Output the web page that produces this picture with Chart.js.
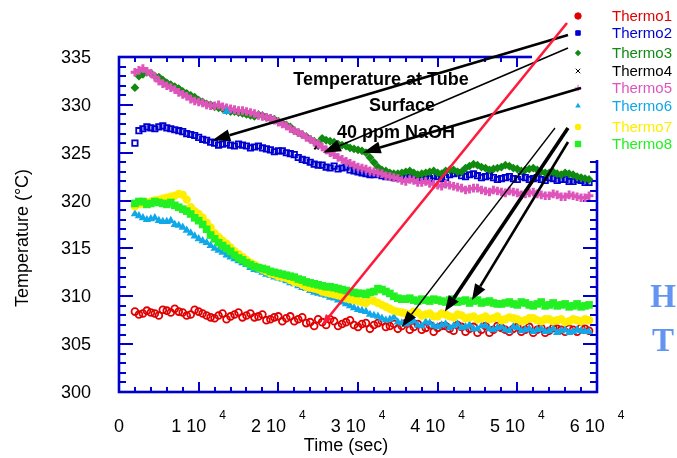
<!DOCTYPE html>
<html>
<head>
<meta charset="utf-8">
<script src="https://cdn.jsdelivr.net/npm/chart.js@4.4.1/dist/chart.umd.min.js"></script>
<style>
  html, body { margin: 0; padding: 0; background: #fff; }
  #wrap { width: 677px; height: 458px; }
</style>
</head>
<body>
<div id="wrap"><canvas id="myChart" width="677" height="458"></canvas></div>
<script>
// logged every 1000 s, plus the readings taken in between (halfTimes)
const times = [2000, 3000, 4000, 5000, 6000, 7000, 8000, 9000, 10000, 11000,
  12000, 13000, 14000, 15000, 16000, 17000, 18000, 19000, 20000, 21000,
  22000, 23000, 24000, 25000, 26000, 27000, 28000, 29000, 30000, 31000,
  32000, 33000, 34000, 35000, 36000, 37000, 38000, 39000, 40000, 41000,
  42000, 43000, 44000, 45000, 46000, 47000, 48000, 49000, 50000, 51000,
  52000, 53000, 54000, 55000, 56000, 57000, 58000, 59000];
const halfTimes = [2500, 3500, 4500, 5500, 6500, 7500, 8500, 9500, 10500, 11500,
  12500, 13500, 14500, 15500, 16500, 17500, 18500, 19500, 20500, 21500,
  22500, 23500, 24500, 25500, 26500, 27500, 28500, 29500, 30500, 31500,
  32500, 33500, 34500, 35500, 36500, 37500, 38500, 39500, 40500, 41500,
  42500, 43500, 44500, 45500, 46500, 47500, 48500, 49500, 50500, 51500,
  52500, 53500, 54500, 55500, 56500, 57500, 58500];

const thermo1 = [308.4, 308.2, 308.3, 308.0, 308.5, 308.7, 308.3, 308.1, 308.4, 308.0,
  307.7, 308.2, 307.9, 308.3, 308.0, 307.8, 308.1, 307.6, 307.9, 307.7,
  307.4, 307.8, 307.3, 307.6, 307.0, 307.4, 307.1, 307.5, 306.8, 307.2,
  307.0, 307.4, 306.9, 306.6, 307.2, 306.8, 306.5, 307.0, 306.7, 306.9,
  306.4, 306.8, 306.6, 306.2, 306.9, 306.5, 306.7, 306.3, 306.8, 306.5,
  306.2, 306.7, 306.4, 306.6, 306.3, 306.5, 306.7, 306.4];
const thermo1Half = [308.1, 308.5, 308.2, 308.6, 308.3, 308.4, 308.0, 308.6, 308.2, 307.8,
  308.0, 307.6, 308.1, 307.8, 308.2, 307.9, 307.5, 307.8, 307.4, 307.9,
  307.6, 307.2, 306.9, 307.3, 307.6, 306.9, 307.3, 307.0, 307.1, 306.6,
  307.2, 306.8, 307.1, 306.9, 306.5, 307.1, 306.7, 306.3, 306.9, 306.6,
  307.0, 306.3, 306.8, 306.5, 306.2, 306.9, 306.5, 306.6, 306.3, 306.8,
  306.5, 306.2, 306.7, 306.5, 306.6, 306.3, 306.6];

const thermo2 = [326.0, 327.5, 327.6, 327.7, 327.6, 327.4, 327.2, 326.9, 326.6, 326.3,
  326.0, 325.9, 325.8, 325.9, 325.7, 325.6, 325.5, 325.3, 325.2, 325.0,
  324.8, 324.3, 324.0, 323.7, 323.5, 323.6, 323.4, 323.2, 323.0, 322.8,
  322.7, 322.6, 322.5, 322.6, 322.4, 322.5, 322.4, 322.3, 322.5, 322.4,
  322.8, 322.6, 322.7, 322.6, 322.5, 322.4, 322.3, 322.5, 322.2, 322.4,
  322.3, 322.2, 322.4, 322.1, 322.2, 322.0, 322.1, 321.9];
const thermo2Half = [327.3, 327.7, 327.5, 327.8, 327.5, 327.3, 327.0, 326.8, 326.4, 326.1,
  325.8, 326.0, 325.7, 325.8, 325.5, 325.7, 325.4, 325.1, 325.2, 324.9,
  324.5, 324.2, 323.8, 323.7, 323.4, 323.3, 323.5, 323.1, 322.9, 322.7,
  322.8, 322.5, 322.4, 322.7, 322.3, 322.6, 322.2, 322.6, 322.3, 322.7,
  322.9, 322.5, 322.8, 322.4, 322.6, 322.2, 322.4, 322.3, 322.5, 322.2,
  322.4, 322.1, 322.3, 322.2, 322.0, 322.2, 321.9];

const thermo3 = [331.8, 333.2, 333.3, 332.9, 332.3, 331.9, 331.4, 331.0, 330.5, 330.1,
  329.8, 329.6, 329.3, 329.2, 329.0, 328.8, 328.9, 328.6, 328.3, 327.9,
  327.3, 326.9, 326.4, 326.0, 326.3, 326.1, 325.8, 325.5, 325.3, 325.0,
  324.0, 323.2, 322.9, 322.8, 323.0, 322.9, 322.8, 323.0, 322.9, 323.1,
  323.2, 323.0, 323.6, 323.7, 323.4, 323.3, 323.5, 323.6, 323.3, 323.2,
  323.4, 323.0, 322.9, 322.8, 322.9, 322.7, 322.4, 322.2];
const thermo3Half = [333.0, 333.4, 333.0, 332.6, 332.1, 331.7, 331.2, 330.8, 330.3, 330.0,
  329.7, 329.4, 329.3, 329.1, 328.9, 329.0, 328.7, 328.5, 328.1, 327.7,
  327.1, 326.7, 326.2, 326.5, 326.2, 325.9, 325.7, 325.4, 325.2, 324.5,
  323.5, 323.1, 322.8, 322.9, 323.1, 322.7, 322.9, 323.1, 322.8, 323.2,
  323.0, 323.4, 323.8, 323.5, 323.2, 323.4, 323.7, 323.4, 323.1, 323.3,
  323.2, 322.9, 323.0, 322.7, 322.8, 322.5, 322.3];

const thermo4Times = [24800];
const thermo4 = [325.6];

const thermo5 = [333.4, 333.8, 333.3, 332.5, 332.0, 331.6, 331.1, 330.6, 330.3, 330.0,
  329.9, 329.8, 329.6, 329.4, 329.3, 329.1, 328.8, 328.6, 328.2, 327.8,
  327.3, 326.9, 326.4, 325.9, 325.3, 324.8, 324.3, 323.9, 323.5, 323.3,
  323.0, 322.8, 322.5, 322.3, 322.0, 322.1, 321.9, 321.8, 321.6, 321.7,
  321.5, 321.3, 321.2, 321.3, 321.0, 321.1, 320.9, 321.0, 320.8, 320.7,
  320.9, 320.6, 320.5, 320.6, 320.4, 320.5, 320.3, 320.5];
const thermo5Half = [333.6, 333.5, 332.9, 332.2, 331.8, 331.3, 330.9, 330.4, 330.2, 329.9,
  330.0, 329.7, 329.5, 329.4, 329.2, 328.9, 328.7, 328.4, 328.0, 327.5,
  327.1, 326.6, 326.1, 325.6, 325.0, 324.5, 324.1, 323.7, 323.4, 323.1,
  322.9, 322.6, 322.4, 322.1, 322.2, 321.9, 322.0, 321.7, 321.5, 321.6,
  321.4, 321.1, 321.3, 321.1, 320.9, 321.0, 320.8, 320.9, 320.6, 320.8,
  320.7, 320.5, 320.7, 320.4, 320.6, 320.4, 320.3];

const thermo6 = [318.6, 318.2, 318.1, 317.9, 317.8, 317.5, 317.2, 316.6, 316.0, 315.6,
  315.0, 314.6, 314.1, 313.7, 313.3, 312.8, 312.5, 312.2, 311.9, 311.6,
  311.3, 310.9, 310.6, 310.3, 310.1, 309.8, 309.4, 309.0, 308.6, 308.4,
  308.0, 307.7, 307.6, 307.3, 307.1, 307.4, 306.9, 307.2, 306.8, 307.1,
  306.9, 306.7, 307.0, 306.6, 306.9, 306.5, 306.8, 306.4, 306.7, 306.5,
  306.3, 306.6, 306.4, 306.2, 306.5, 306.3, 306.4, 306.3];
const thermo6Half = [318.4, 318.0, 318.2, 317.8, 317.9, 317.4, 316.9, 316.3, 315.8, 315.3,
  314.8, 314.3, 313.9, 313.5, 313.0, 312.7, 312.3, 312.0, 311.8, 311.4,
  311.1, 310.8, 310.4, 310.2, 309.9, 309.6, 309.2, 308.8, 308.5, 308.1,
  307.9, 307.5, 307.8, 307.2, 307.3, 307.0, 307.3, 306.9, 307.0, 306.7,
  307.1, 306.8, 306.6, 306.9, 306.6, 306.7, 306.5, 306.8, 306.4, 306.6,
  306.5, 306.3, 306.6, 306.4, 306.2, 306.5, 306.3];
const thermo6StrayTimes = [13500];
const thermo6Stray = [329.3];

const thermo7 = [319.4, 319.7, 319.9, 320.1, 320.3, 320.5, 320.6, 319.3, 318.6, 317.7,
  316.6, 315.8, 315.1, 314.4, 313.8, 313.3, 312.8, 312.4, 312.1, 311.9,
  311.5, 311.2, 310.9, 310.7, 310.4, 310.2, 310.0, 309.7, 309.5, 309.3,
  309.5, 309.1, 308.7, 308.4, 308.2, 308.4, 308.0, 308.2, 307.9, 308.1,
  307.8, 308.0, 307.8, 307.6, 307.9, 307.7, 307.5, 307.8, 307.6, 307.5,
  307.7, 307.4, 307.6, 307.5, 307.3, 307.6, 307.4, 307.5];
const thermo7Half = [319.6, 319.8, 320.0, 320.2, 320.4, 320.7, 320.1, 318.9, 318.2, 317.2,
  316.2, 315.5, 314.7, 314.1, 313.5, 313.0, 312.6, 312.3, 312.0, 311.7,
  311.4, 311.0, 310.8, 310.5, 310.3, 310.1, 309.8, 309.6, 309.4, 309.6,
  309.3, 308.9, 308.5, 308.3, 308.1, 308.3, 308.1, 307.9, 308.2, 307.9,
  308.1, 307.7, 307.9, 307.7, 307.6, 307.9, 307.6, 307.7, 307.4, 307.7,
  307.5, 307.6, 307.4, 307.6, 307.4, 307.5, 307.6];

const thermo8 = [319.7, 319.9, 319.7, 319.8, 319.6, 319.5, 319.1, 318.6, 317.9, 317.0,
  316.0, 315.3, 314.7, 314.0, 313.5, 313.1, 312.9, 312.6, 312.4, 312.2,
  312.0, 311.7, 311.4, 311.2, 311.0, 310.9, 310.7, 310.5, 310.3, 310.2,
  310.5, 310.7, 310.3, 309.8, 309.7, 309.6, 309.7, 309.5, 309.6, 309.4,
  309.7, 309.5, 309.3, 309.6, 309.4, 309.3, 309.2, 309.4, 309.1, 309.3,
  309.0, 309.4, 309.1, 309.0, 309.2, 309.0, 308.9, 309.1];
const thermo8Half = [319.9, 319.6, 319.9, 319.7, 319.8, 319.3, 318.9, 318.2, 317.5, 316.4,
  315.6, 315.0, 314.3, 313.8, 313.3, 313.0, 312.8, 312.5, 312.3, 312.1,
  311.8, 311.5, 311.3, 311.1, 311.0, 310.8, 310.6, 310.4, 310.3, 310.4,
  310.8, 310.5, 310.0, 309.7, 309.8, 309.5, 309.6, 309.7, 309.5, 309.6,
  309.4, 309.6, 309.5, 309.3, 309.5, 309.2, 309.3, 309.2, 309.4, 309.1,
  309.2, 309.0, 309.3, 309.1, 308.9, 309.2, 309.0];

const seriesNames = ['Thermo1', 'Thermo2', 'Thermo3', 'Thermo4', 'Thermo5', 'Thermo6', 'Thermo7', 'Thermo8'];
const seriesColors = ['#e00000', '#0000d0', '#108a10', '#000000', '#dd55bb', '#10a8e8', '#ffee00', '#22f022'];

const xTickValues = [0, 10000, 20000, 30000, 40000, 50000, 60000];
const xTickLabels = ['0', '1 10', '2 10', '3 10', '4 10', '5 10', '6 10'];
const xTickPowers = ['', '4', '4', '4', '4', '4', '4'];
const yTickValues = [300, 305, 310, 315, 320, 325, 330, 335];

const titleLines = ['Temperature at Tube', 'Surface', '40 ppm NaOH'];

function pts(xs, ys) {
  return ys.map(function (v, i) { return { x: xs[i], y: v }; });
}
function both(a, b) {
  return pts(times, a).concat(pts(halfTimes, b));
}

const FONT = '"Liberation Sans", Arial, sans-serif';
const frameColor = '#0000cc';

// arrows: tail in pixels (next to the key), tip in data units
const arrows = [
  { from: [568, 35], to: [11700, 326.3], w: 2.6, head: 18, hw: 12, color: '#000' },
  { from: [568, 48], to: [25600, 325.0], w: 1.6, head: 18, hw: 12, color: '#000' },
  { from: [581, 88], to: [30600, 325.0], w: 2.6, head: 18, hw: 12, color: '#000' },
  { from: [555, 128], to: [35500, 306.8], w: 1.3, head: 16, hw: 11, color: '#000' },
  { from: [568, 128], to: [40900, 308.4], w: 3.6, head: 16, hw: 12, color: '#000' },
  { from: [568, 142], to: [44300, 309.6], w: 2.6, head: 16, hw: 12, color: '#000' },
  { from: [567, 23], to: [25500, 307.0], w: 2.6, head: 11, hw: 8, color: '#ff1a3a' }
];

function drawArrow(ctx, x1, y1, x2, y2, a) {
  const ang = Math.atan2(y2 - y1, x2 - x1);
  const bx = x2 - a.head * Math.cos(ang), by = y2 - a.head * Math.sin(ang);
  ctx.strokeStyle = a.color;
  ctx.fillStyle = a.color;
  ctx.lineWidth = a.w;
  ctx.beginPath();
  ctx.moveTo(x1, y1);
  ctx.lineTo(bx, by);
  ctx.stroke();
  ctx.beginPath();
  ctx.moveTo(x2, y2);
  ctx.lineTo(bx + a.hw / 2 * Math.sin(ang), by - a.hw / 2 * Math.cos(ang));
  ctx.lineTo(bx - a.hw / 2 * Math.sin(ang), by + a.hw / 2 * Math.cos(ang));
  ctx.closePath();
  ctx.fill();
}

const framePlugin = {
  id: 'frame',
  beforeDatasetsDraw(chart) {
    const ctx = chart.ctx, xs = chart.scales.x, ys = chart.scales.y, a = chart.chartArea;
    ctx.save();
    ctx.strokeStyle = frameColor;
    ctx.lineWidth = 2.6;
    ctx.strokeRect(a.left, a.top, a.right - a.left, a.bottom - a.top);
    ctx.lineWidth = 2;
    ctx.beginPath();
    // inward ticks, minor every 2000 s and 1 degree
    for (let t = 2000; t < 60000; t += 2000) {
      const px = Math.round(xs.getPixelForValue(t));
      const len = t % 10000 === 0 ? 10 : 5;
      ctx.moveTo(px, a.bottom); ctx.lineTo(px, a.bottom - len);
      ctx.moveTo(px, a.top); ctx.lineTo(px, a.top + len);
    }
    for (let v = 301; v < 335; v++) {
      const py = Math.round(ys.getPixelForValue(v));
      const len = v % 5 === 0 ? 14 : 7;
      ctx.moveTo(a.left, py); ctx.lineTo(a.left + len, py);
      ctx.moveTo(a.right, py); ctx.lineTo(a.right - len, py);
    }
    ctx.stroke();

    // tick labels
    ctx.fillStyle = '#000';
    ctx.textAlign = 'right';
    ctx.textBaseline = 'middle';
    ctx.font = '18px ' + FONT;
    yTickValues.forEach(function (v) {
      ctx.fillText(String(v), 91, ys.getPixelForValue(v) + 1);
    });
    ctx.textAlign = 'left';
    ctx.textBaseline = 'alphabetic';
    xTickValues.forEach(function (v, i) {
      ctx.font = '18px ' + FONT;
      const w1 = ctx.measureText(xTickLabels[i]).width;
      ctx.font = '12px ' + FONT;
      const w2 = xTickPowers[i] ? 13 + ctx.measureText(xTickPowers[i]).width : 0;
      const x0 = xs.getPixelForValue(v) - (w1 + w2) / 2;
      ctx.font = '18px ' + FONT;
      ctx.fillText(xTickLabels[i], x0, 432);
      if (xTickPowers[i]) {
        ctx.font = '12px ' + FONT;
        ctx.fillText(xTickPowers[i], x0 + w1 + 13, 419);
      }
    });

    // axis titles
    ctx.font = '18px ' + FONT;
    ctx.textAlign = 'center';
    ctx.textBaseline = 'middle';
    ctx.fillText('Time (sec)', 346, 446);
    ctx.save();
    ctx.translate(23, 238);
    ctx.rotate(-Math.PI / 2);
    ctx.fillText('Temperature (\u00B0C)', 0, 0);
    ctx.restore();
    ctx.restore();
  },
  afterDatasetsDraw(chart) {
    const ctx = chart.ctx, xs = chart.scales.x, ys = chart.scales.y;
    ctx.save();
    // key box sits over the upper right corner of the frame
    ctx.fillStyle = '#fff';
    ctx.fillRect(532, 0, 145, 160);

    const rows = [16, 33, 53, 71, 88, 106, 127, 144];
    chart.data.datasets.slice(0, 8).forEach(function (ds, i) {
      ctx.fillStyle = seriesColors[i];
      ctx.strokeStyle = seriesColors[i];
      Chart.helpers.drawPoint(ctx, {
        pointStyle: ds.pointStyle,
        radius: ds.pointStyle === 'rect' && i === 7 ? 4.5 : 3.2,
        rotation: 0,
        borderWidth: Math.min(ds.pointBorderWidth, 2)
      }, 578, rows[i]);
      ctx.fillStyle = seriesColors[i];
      ctx.font = '15px ' + FONT;
      ctx.textAlign = 'left';
      ctx.textBaseline = 'middle';
      ctx.fillText(seriesNames[i], 612, rows[i] + 1);
    });

    // annotation
    ctx.fillStyle = '#000';
    ctx.font = 'bold 18px ' + FONT;
    ctx.textAlign = 'center';
    ctx.textBaseline = 'middle';
    ctx.fillText(titleLines[0], 381, 80);
    ctx.fillText(titleLines[1], 402, 106);
    ctx.fillText(titleLines[2], 396, 133);

    arrows.forEach(function (a) {
      drawArrow(ctx, a.from[0], a.from[1], xs.getPixelForValue(a.to[0]), ys.getPixelForValue(a.to[1]), a);
    });

    ctx.fillStyle = '#6494f2';
    ctx.font = 'bold 33px "Liberation Serif", "Times New Roman", serif';
    ctx.fillText('H', 663, 298);
    ctx.fillText('T', 663, 342);
    ctx.restore();
  }
};

function myLoadFunction() {
  const ctx = document.getElementById('myChart').getContext('2d');
  const myChartConfig = {
    type: 'scatter',
    data: {
      datasets: [
        { label: seriesNames[0], data: both(thermo1, thermo1Half), pointStyle: 'circle', pointRadius: 3.4,
          pointBorderWidth: 1.8, borderColor: seriesColors[0], backgroundColor: 'rgba(0,0,0,0)', order: 7 },
        { label: seriesNames[1], data: both(thermo2, thermo2Half), pointStyle: 'rect', pointRadius: 3.8,
          pointBorderWidth: 1.8, borderColor: seriesColors[1], backgroundColor: 'rgba(0,0,0,0)', order: 6 },
        { label: seriesNames[2], data: both(thermo3, thermo3Half), pointStyle: 'rectRot', pointRadius: 4.4,
          pointBorderWidth: 0, borderColor: seriesColors[2], backgroundColor: seriesColors[2], order: 5 },
        { label: seriesNames[3], data: pts(thermo4Times, thermo4), pointStyle: 'crossRot', pointRadius: 3.2,
          pointBorderWidth: 2, borderColor: seriesColors[3], backgroundColor: seriesColors[3], order: 4 },
        { label: seriesNames[4], data: both(thermo5, thermo5Half), pointStyle: 'cross', pointRadius: 4.3,
          pointBorderWidth: 3, borderColor: seriesColors[4], backgroundColor: seriesColors[4], order: 3 },
        { label: seriesNames[5], data: both(thermo6, thermo6Half).concat(pts(thermo6StrayTimes, thermo6Stray)),
          pointStyle: 'triangle', pointRadius: 4.8, pointBorderWidth: 0,
          borderColor: seriesColors[5], backgroundColor: seriesColors[5], order: 2 },
        { label: seriesNames[6], data: both(thermo7, thermo7Half), pointStyle: 'circle', pointRadius: 4.2,
          pointBorderWidth: 0, borderColor: seriesColors[6], backgroundColor: seriesColors[6], order: 1 },
        { label: seriesNames[7], data: both(thermo8, thermo8Half), pointStyle: 'rect', pointRadius: 5.4,
          pointBorderWidth: 0, borderColor: seriesColors[7], backgroundColor: seriesColors[7], order: 0 }
      ]
    },
    options: {
      responsive: false,
      devicePixelRatio: 1,
      animation: false,
      layout: { padding: { left: 119, right: 80, top: 57, bottom: 66 } },
      scales: {
        x: { type: 'linear', min: 0, max: 60000, display: false },
        y: { type: 'linear', min: 300, max: 335, display: false }
      },
      plugins: { legend: { display: false }, tooltip: { enabled: false } }
    },
    plugins: [framePlugin]
  };
  new Chart(ctx, myChartConfig);
}

document.addEventListener('DOMContentLoaded', myLoadFunction);
</script>
</body>
</html>
